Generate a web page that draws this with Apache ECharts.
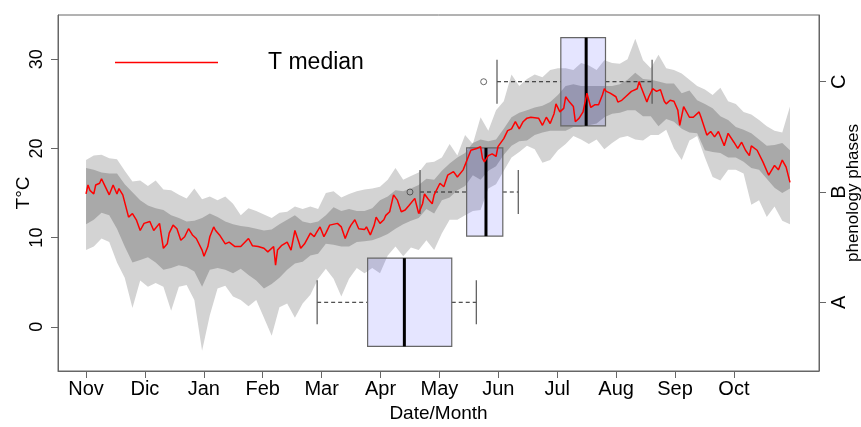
<!DOCTYPE html>
<html><head><meta charset="utf-8">
<script src="https://cdn.jsdelivr.net/npm/echarts@6/dist/echarts.min.js"></script>
<style>html,body{margin:0;padding:0;background:#fff}#c{width:861px;height:427px}</style>
</head><body><div id="c"></div>
<script>
// ---- DATA ----
const bandDays = [0,4,8,12,16,20,24,28,32,36,40,44,48,52,56,60,64,68,72,76,80,84,88,92,96,100,104,108,112,116,120,124,128,132,136,140,144,148,152,156,160,164,168,172,176,180,184,188,192,196,200,204,208,212,216,220,224,228,232,236,240,244,248,252,256,260,264,268,272,276,280,284,288,292,296,300,304,308,312,316,320,324,328,332,336,340,344,348,352,356,360,364];
const tMax = [18.7,19.2,19.3,18.9,18.8,17.5,16.3,16.4,15.8,16.4,15.4,15.3,14.8,14.4,15.5,14.3,14.6,14.2,14.6,13.8,12.5,13.3,13.0,12.6,12.2,12.8,12.9,13.5,13.2,13.5,13.2,15.0,15.2,14.5,14.9,15.2,15.4,15.5,15.7,16.5,17.8,16.5,16.9,17.3,18.4,18.5,19.0,20.5,19.2,21.5,20.5,23.5,22.0,24.3,25.3,28.3,27.0,27.8,28.3,28.0,28.8,29.0,29.0,28.8,29.6,29.3,28.8,29.9,29.6,29.5,30.0,32.3,29.9,29.0,30.5,29.0,28.8,28.4,27.7,27.0,26.6,26.0,26.8,25.3,25.0,24.1,23.8,23.2,22.5,22.0,21.8,24.7];
const tQ3 = [17.8,17.6,17.3,17.2,17.2,16.0,15.1,14.2,13.6,13.3,13.1,12.5,12.2,11.8,11.9,12.2,12.7,12.3,11.8,11.5,11.3,11.2,11.0,10.8,10.9,11.5,12.0,12.5,11.8,11.6,11.8,12.5,13.4,13.0,13.2,13.0,13.0,13.3,14.2,14.6,15.3,15.2,15.5,15.9,16.6,16.5,17.5,18.3,19.0,19.5,20.6,21.0,20.8,21.0,22.2,23.5,24.0,24.3,24.6,24.8,25.2,26.0,27.0,27.2,27.0,27.0,27.0,27.0,27.0,27.2,27.7,28.5,27.8,27.7,27.5,27.3,27.3,26.2,26.5,25.4,25.0,24.5,23.6,23.2,22.4,22.1,21.7,21.0,20.3,20.4,20.6,19.8];
const tQ1 = [11.5,12.0,12.8,12.5,11.0,9.0,7.2,7.5,7.8,7.2,6.4,6.6,6.9,6.7,6.2,4.5,6.4,6.6,6.4,6.0,6.5,5.8,5.2,4.3,4.8,5.5,6.4,7.1,7.3,8.0,8.2,9.3,9.2,9.0,9.0,9.5,9.6,9.7,10.0,10.4,11.0,11.5,11.9,12.2,13.2,12.7,14.2,14.5,15.3,15.8,17.0,16.5,17.5,18.0,19.3,20.3,20.8,20.9,21.5,21.8,22.0,22.0,22.0,22.4,22.4,22.6,22.8,23.5,23.9,24.0,24.3,24.3,23.6,23.6,22.5,23.3,23.0,22.2,21.8,21.7,19.8,19.6,19.5,19.0,19.0,18.5,17.8,17.6,16.6,15.6,15.0,15.5];
const tMin = [8.6,9.0,9.9,9.5,7.2,5.5,2.1,5.2,4.5,4.9,4.5,1.8,4.5,4.7,3.0,-2.7,1.3,4.3,4.6,3.4,3.0,2.3,3.0,1.0,-1.0,2.2,2.6,1.0,2.6,3.6,5.4,6.5,5.4,3.4,5.4,6.6,6.0,6.6,6.0,8.0,9.0,7.9,8.9,8.6,9.7,8.6,10.5,12.0,12.0,12.5,13.0,13.1,15.5,16.0,17.5,19.0,19.6,20.3,19.9,18.4,18.7,19.8,20.5,21.4,21.0,20.5,21.0,19.9,20.6,21.2,21.4,21.0,20.9,21.5,21.5,22.1,20.0,18.7,20.9,21.4,19.0,16.8,16.4,17.6,17.6,17.2,13.7,14.2,12.3,13.5,11.9,11.5];

const medDays = [0,1,2,4,5,7,8,10,12,14,16,17,19,22,24,26,28,30,31,33,35,38,40,42,43,45,47,49,51,53,55,57,58,60,61,63,64,66,67,69,72,74,77,80,84,86,89,92,94,97,98,99,101,104,106,108,110,111,113,116,118,119,121,123,124,126,130,132,134,136,137,139,141,144,145,147,149,150,152,154,155,157,159,161,163,165,167,168,170,172,174,175,177,179,180,183,185,187,188,190,192,193,195,197,199,202,204,205,206,208,210,212,213,216,218,220,222,224,226,228,230,231,234,236,238,240,242,243,245,247,248,250,252,253,255,257,258,259,261,263,265,267,268,269,271,274,275,277,279,280,282,283,285,286,287,290,291,293,295,297,299,300,302,304,306,307,309,312,314,317,318,321,323,325,327,330,332,335,337,339,341,343,344,347,350,353,356,358,360,362,363,364];
const medT = [14.9,15.9,15.3,14.9,15.9,16.1,16.6,15.7,14.8,15.9,14.9,15.5,14.8,12.3,12.7,12.0,10.8,11.6,11.4,11.8,10.8,11.6,8.8,9.3,10.5,11.4,11.0,9.7,10.1,11.0,10.3,9.9,10.1,8.6,7.9,9.0,10.1,11.2,10.8,10.3,9.3,9.5,9.0,9.0,9.9,9.1,9.0,8.8,8.4,9.0,6.9,8.6,9.1,9.5,8.6,10.8,9.5,8.8,9.3,10.5,10.1,10.5,11.2,10.1,10.5,11.4,11.6,11.2,9.9,11.0,11.4,12.0,11.0,10.9,11.2,10.3,11.4,12.3,11.6,12.0,12.5,12.9,14.8,14.2,12.9,13.1,13.6,13.5,14.4,12.7,13.8,14.9,14.3,13.8,14.8,16.1,15.7,17.0,16.8,17.4,16.8,17.0,17.6,18.7,19.8,20.0,20.2,18.9,18.5,19.2,19.4,19.1,20.2,21.1,22.0,22.2,23.0,22.2,23.0,23.4,23.5,23.7,23.4,22.6,23.5,22.8,23.9,25.0,24.1,24.5,25.8,25.2,24.7,23.0,23.4,24.1,24.3,26.2,24.6,24.9,24.9,26.0,26.7,26.4,26.2,25.8,25.2,25.4,25.8,26.0,26.4,26.5,26.7,27.5,26.9,25.2,25.8,26.7,26.4,26.6,25.3,25.0,25.4,25.3,24.3,22.6,24.7,23.5,23.5,24.1,23.5,21.5,21.9,21.3,21.9,20.3,21.7,20.7,20.0,20.7,19.8,19.2,20.3,19.8,18.5,17.0,18.1,17.6,18.7,17.9,17.9,16.2];

const monthNames = ['Nov','Dic','Jan','Feb','Mar','Apr','May','Jun','Jul','Aug','Sep','Oct'];
const monthTicks = [0,30.45,60.91,91.36,121.82,152.27,182.73,213.18,243.64,274.09,304.55,335];
const tempTicks = [0,10,20,30];

const phaseNames = ['A','B','C'];
const phasePos = [1,2,3];
const boxLow  = [119.5,172.7,212.5];
const boxQ1   = [145.6,196.8,245.5];
const boxMed  = [164.6,206.8,258.6];
const boxQ3   = [189.1,215.5,268.6];
const boxHigh = [201.8,223.5,292.7];
const outlierDays  = [167.5,205.6];
const outlierPhase = [2,3];

// ---- CHART ----
const FONT = '"Liberation Sans", Arial, Helvetica, sans-serif';
const chart = echarts.init(document.getElementById('c'), null, {renderer:'canvas'});

function bandRender(lo, hi, color){
  return function(params, api){
    if (params.dataIndex !== 0) return null;
    const pts = [];
    for (let i = 0; i < bandDays.length; i++) pts.push(api.coord([bandDays[i], hi[i]]));
    for (let i = bandDays.length - 1; i >= 0; i--) pts.push(api.coord([bandDays[i], lo[i]]));
    return {type:'polygon', shape:{points:pts}, style:{fill:color}, silent:true};
  };
}

function boxRender(params, api){
  const y = api.value(0);
  const lo = api.value(1), q1 = api.value(2), md = api.value(3), q3 = api.value(4), hi = api.value(5);
  const pLo = api.coord([lo, y]), pQ1 = api.coord([q1, y]), pMd = api.coord([md, y]);
  const pQ3 = api.coord([q3, y]), pHi = api.coord([hi, y]);
  const top = api.coord([q1, y + 0.4])[1], bot = api.coord([q1, y - 0.4])[1];
  const sTop = api.coord([q1, y + 0.2])[1], sBot = api.coord([q1, y - 0.2])[1];
  const dash = {stroke:'#222', lineWidth:1, lineDash:[4,3]};
  const staple = {stroke:'#555', lineWidth:1.2};
  return {type:'group', children:[
    {type:'line', shape:{x1:pLo[0], y1:pLo[1], x2:pQ1[0], y2:pQ1[1]}, style:dash},
    {type:'line', shape:{x1:pQ3[0], y1:pQ3[1], x2:pHi[0], y2:pHi[1]}, style:dash},
    {type:'line', shape:{x1:pLo[0], y1:sTop, x2:pLo[0], y2:sBot}, style:staple},
    {type:'line', shape:{x1:pHi[0], y1:sTop, x2:pHi[0], y2:sBot}, style:staple},
    {type:'rect', shape:{x:pQ1[0], y:top, width:pQ3[0]-pQ1[0], height:bot-top},
      style:{fill:'rgba(0,0,255,0.1)', stroke:'#666', lineWidth:1.2}},
    {type:'line', shape:{x1:pMd[0], y1:top, x2:pMd[0], y2:bot}, style:{stroke:'#000', lineWidth:3}}
  ]};
}

const option = {
  animation: false,
  backgroundColor: '#fff',
  textStyle: {fontFamily: FONT},
  grid: {left:58, right:42, top:15, bottom:56, show:true, borderColor:'#666', borderWidth:1,
    containLabel:false, outerBoundsMode:'none'},
  legend: {
    data: [{name:'T median', icon:'rect'}],
    left: 110, top: 46,
    itemWidth: 103, itemHeight: 1.5,
    textStyle: {fontSize: 23, color:'#000', fontFamily: FONT, padding:[0,0,0,45]}
  },
  xAxis: {
    type:'value', min:-14.5, max:379, position:'bottom',
    axisLine:{show:true, onZero:false, lineStyle:{color:'#666'}},
    axisTick:{show:true, customValues: monthTicks, length:7, lineStyle:{color:'#666'}},
    axisLabel:{show:true, customValues: monthTicks, margin:8, fontSize:20, color:'#000', fontFamily:FONT,
      formatter: function(v){ let best=0; for (let i=0;i<monthTicks.length;i++){ if (Math.abs(monthTicks[i]-v) < Math.abs(monthTicks[best]-v)) best=i; } return monthNames[best]; }},
    splitLine:{show:false},
    name:'Date/Month', nameLocation:'middle', nameGap:33, nameMoveOverlap:false,
    nameTextStyle:{fontSize:19, color:'#000', fontFamily:FONT}
  },
  yAxis: [
    {
      type:'value', min:-4.96, max:34.97, position:'left',
      axisLine:{show:true, onZero:false, lineStyle:{color:'#666'}},
      axisTick:{show:true, customValues: tempTicks, length:7, lineStyle:{color:'#666'}},
      axisLabel:{show:true, customValues: tempTicks, rotate:90, margin:12, fontSize:18, color:'#000', fontFamily:FONT},
      splitLine:{show:false},
      name:'T°C', nameLocation:'middle', nameGap:25, nameRotate:90, nameMoveOverlap:false,
      nameTextStyle:{fontSize:19, color:'#000', fontFamily:FONT}
    },
    {
      type:'value', min:0.377, max:3.605, position:'right',
      axisLine:{show:true, onZero:false, lineStyle:{color:'#666'}},
      axisTick:{show:true, customValues: phasePos, length:7, lineStyle:{color:'#666'}},
      axisLabel:{show:true, customValues: phasePos, rotate:90, margin:10, fontSize:20, color:'#000', fontFamily:FONT,
        formatter: function(v){ return phaseNames[Math.round(v)-1]; }},
      splitLine:{show:false},
      name:'phenology phases', nameLocation:'middle', nameGap:26, nameRotate:90, nameMoveOverlap:false,
      nameTextStyle:{fontSize:17, color:'#000', fontFamily:FONT}
    }
  ],
  series: [
    {type:'custom', name:'range', xAxisIndex:0, yAxisIndex:0, z:1, silent:true,
      renderItem: bandRender(tMin, tMax, '#D3D3D3'), data:[[0,0]], encode:{x:0, y:1}},
    {type:'custom', name:'quartiles', xAxisIndex:0, yAxisIndex:0, z:2, silent:true,
      renderItem: bandRender(tQ1, tQ3, '#A9A9A9'), data:[[0,0]], encode:{x:0, y:1}},
    {type:'custom', name:'phases', xAxisIndex:0, yAxisIndex:1, z:3, silent:true,
      renderItem: boxRender,
      data: phasePos.map((p,i)=>[p, boxLow[i], boxQ1[i], boxMed[i], boxQ3[i], boxHigh[i]]),
      encode:{y:0, x:[1,2,3,4,5]}},
    {type:'scatter', name:'outliers', xAxisIndex:0, yAxisIndex:1, z:4, symbol:'circle', symbolSize:6,
      itemStyle:{color:'rgba(0,0,0,0)', borderColor:'#444', borderWidth:1},
      data: outlierDays.map((d,i)=>[d, outlierPhase[i]])},
    {type:'line', name:'T median', xAxisIndex:0, yAxisIndex:0, z:5, showSymbol:false, symbol:'none',
      lineStyle:{color:'#FF0000', width:1.5}, itemStyle:{color:'#FF0000'},
      data: medDays.map((d,i)=>[d, medT[i]])}
  ]
};
chart.setOption(option);
</script>
</body></html>
